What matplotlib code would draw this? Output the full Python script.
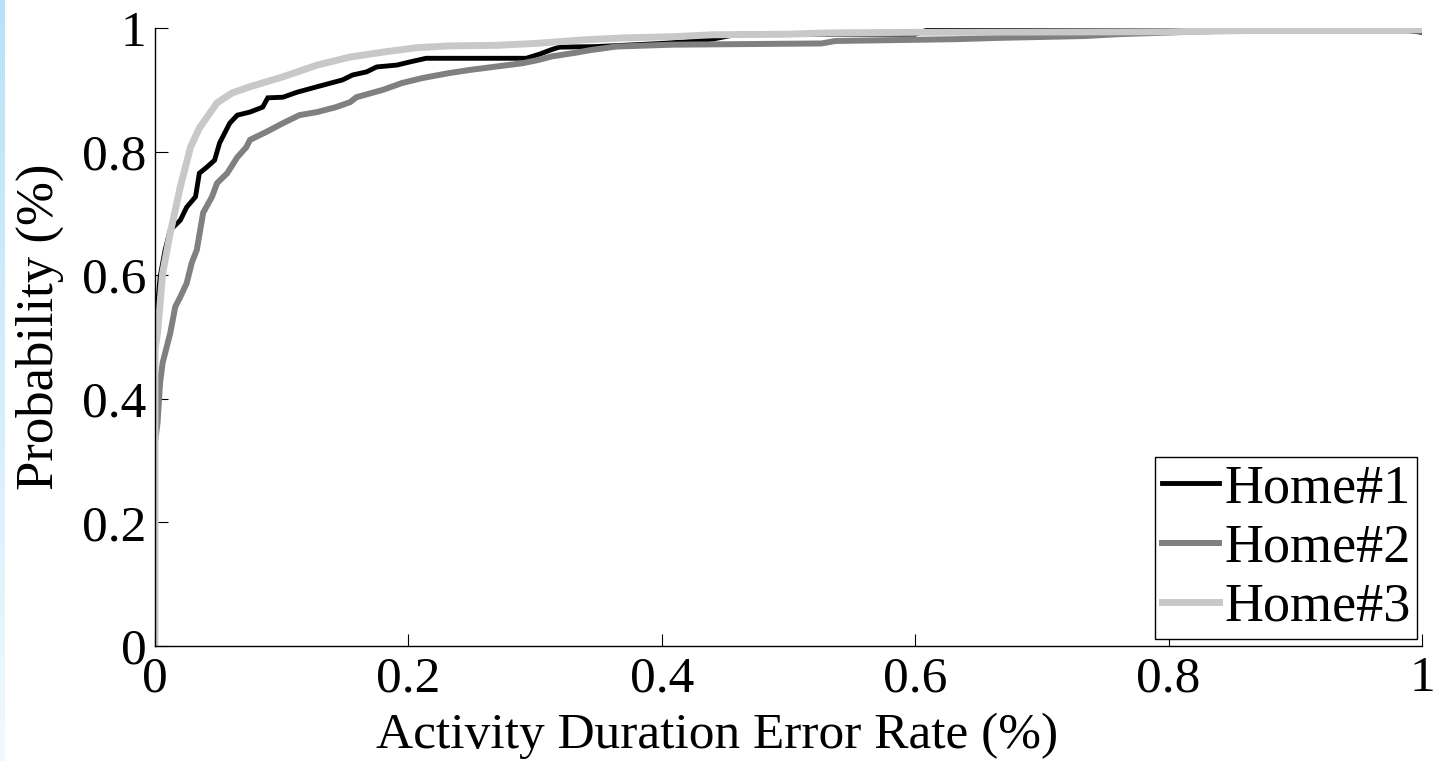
import numpy as np
import matplotlib
matplotlib.use("Agg")
import matplotlib.pyplot as plt

# ------------------------------
# Daten
# ------------------------------
x1 = [0, 0.002, 0.004, 0.008, 0.012, 0.020, 0.025, 0.032, 0.035, 0.041,
      0.047, 0.051, 0.059, 0.065, 0.075, 0.085, 0.089, 0.101, 0.112, 0.128,
      0.148, 0.156, 0.167, 0.175, 0.191, 0.201, 0.214, 0.293, 0.304, 0.313,
      0.319, 0.349, 0.40, 0.42, 0.44, 0.46, 0.60, 0.61, 0.985, 1.0]
y1 = [0.48, 0.55, 0.597, 0.641, 0.673, 0.689, 0.710, 0.727, 0.765, 0.775,
      0.786, 0.814, 0.846, 0.859, 0.864, 0.872, 0.887, 0.888, 0.896, 0.905,
      0.916, 0.924, 0.929, 0.937, 0.940, 0.945, 0.951, 0.951, 0.958, 0.965,
      0.969, 0.970, 0.975, 0.978, 0.982, 0.99, 0.99, 0.997, 0.997, 0.993]

x2 = [0, 0.002, 0.004, 0.006, 0.012, 0.016, 0.020, 0.025, 0.029, 0.033,
      0.038, 0.045, 0.049, 0.057, 0.065, 0.072, 0.075, 0.088, 0.101, 0.114,
      0.128, 0.143, 0.154, 0.159, 0.180, 0.195, 0.211, 0.232, 0.248, 0.267,
      0.29, 0.302, 0.313, 0.332, 0.343, 0.364, 0.408, 0.526, 0.537, 0.634,
      0.665, 0.734, 0.76, 0.85, 1.0]
y2 = [0.33, 0.361, 0.426, 0.458, 0.506, 0.549, 0.565, 0.587, 0.620, 0.641,
      0.701, 0.727, 0.749, 0.765, 0.791, 0.807, 0.819, 0.832, 0.846, 0.859,
      0.864, 0.872, 0.880, 0.888, 0.900, 0.911, 0.919, 0.927, 0.932, 0.937,
      0.943, 0.948, 0.954, 0.960, 0.964, 0.970, 0.973, 0.975, 0.979, 0.982,
      0.984, 0.987, 0.990, 0.996, 0.996]

x3 = [0, 0, 0.002, 0.006, 0.012, 0.020, 0.028, 0.035, 0.049, 0.061,
      0.075, 0.101, 0.128, 0.154, 0.180, 0.206, 0.232, 0.27, 0.30, 0.34,
      0.37, 0.41, 0.44, 0.50, 0.53, 0.60, 0.80, 0.90, 1.0]
y3 = [0, 0.48, 0.506, 0.603, 0.668, 0.743, 0.807, 0.838, 0.879, 0.895,
      0.905, 0.921, 0.940, 0.953, 0.961, 0.968, 0.971, 0.972, 0.975, 0.981,
      0.984, 0.986, 0.989, 0.990, 0.992, 0.993, 0.994, 0.997, 0.997]

labels = ["Home#1", "Home#2", "Home#3"]
ticks = [0, 0.2, 0.4, 0.6, 0.8, 1]
tick_labels = ["0", "0.2", "0.4", "0.6", "0.8", "1"]

plt.rcParams['font.family'] = ['Liberation Serif', 'DejaVu Serif']

fig = plt.figure(figsize=(14.35, 7.61), dpi=100)

# hellblauer Rand links
strip = fig.add_axes([0, 0, 5 / 1435, 1])
grad = np.linspace(0, 1, 256).reshape(-1, 1)
strip.imshow(np.dstack([np.full_like(grad, 0.72), np.full_like(grad, 0.89),
                        np.full_like(grad, 0.98), 0.2 + 0.8 * grad]),
             aspect='auto', origin='lower', extent=[0, 1, 0, 1])
strip.axis('off')

ax = fig.add_axes([155 / 1435, 1 - 646 / 761, 1267 / 1435, 618 / 761])
ax.plot(x1, y1, color='black', lw=3.5, label=labels[0], solid_joinstyle='miter')
ax.plot(x2, y2, color='#808080', lw=4.3, label=labels[1], solid_joinstyle='miter')
ax.plot(x3, y3, color='#c8c8c8', lw=5, label=labels[2], solid_joinstyle='miter')

ax.set_xlim(0, 1)
ax.set_ylim(0, 1)
ax.set_xticks(ticks)
ax.set_xticklabels(tick_labels)
ax.set_yticks(ticks)
ax.set_yticklabels(tick_labels)
ax.tick_params(direction='in', length=9, width=0.8, labelsize=37)
ax.tick_params(axis='x', pad=7)
ax.tick_params(axis='y', pad=6)
ax.spines['top'].set_visible(False)
ax.spines['right'].set_visible(False)
for s in ['left', 'bottom']:
    ax.spines[s].set_linewidth(1.0)

ax.set_xlabel("Activity Duration Error Rate (%)", fontsize=37)
ax.xaxis.set_label_coords(0.444, -0.145)
ax.xaxis.label.set_va('center')
ax.set_ylabel("Probability (%)", fontsize=38)
ax.yaxis.set_label_coords(-0.0906, 0.516)
ax.yaxis.label.set_va('center')

leg = ax.legend(loc='lower right', bbox_to_anchor=(0.996, 0.011),
                fontsize=39, handlelength=1.05, handletextpad=0.1,
                labelspacing=0.16, borderpad=0.12, borderaxespad=0,
                fancybox=False, framealpha=1, edgecolor='black')
leg.get_frame().set_linewidth(1.0)

fig.savefig("out.png", dpi=100)
